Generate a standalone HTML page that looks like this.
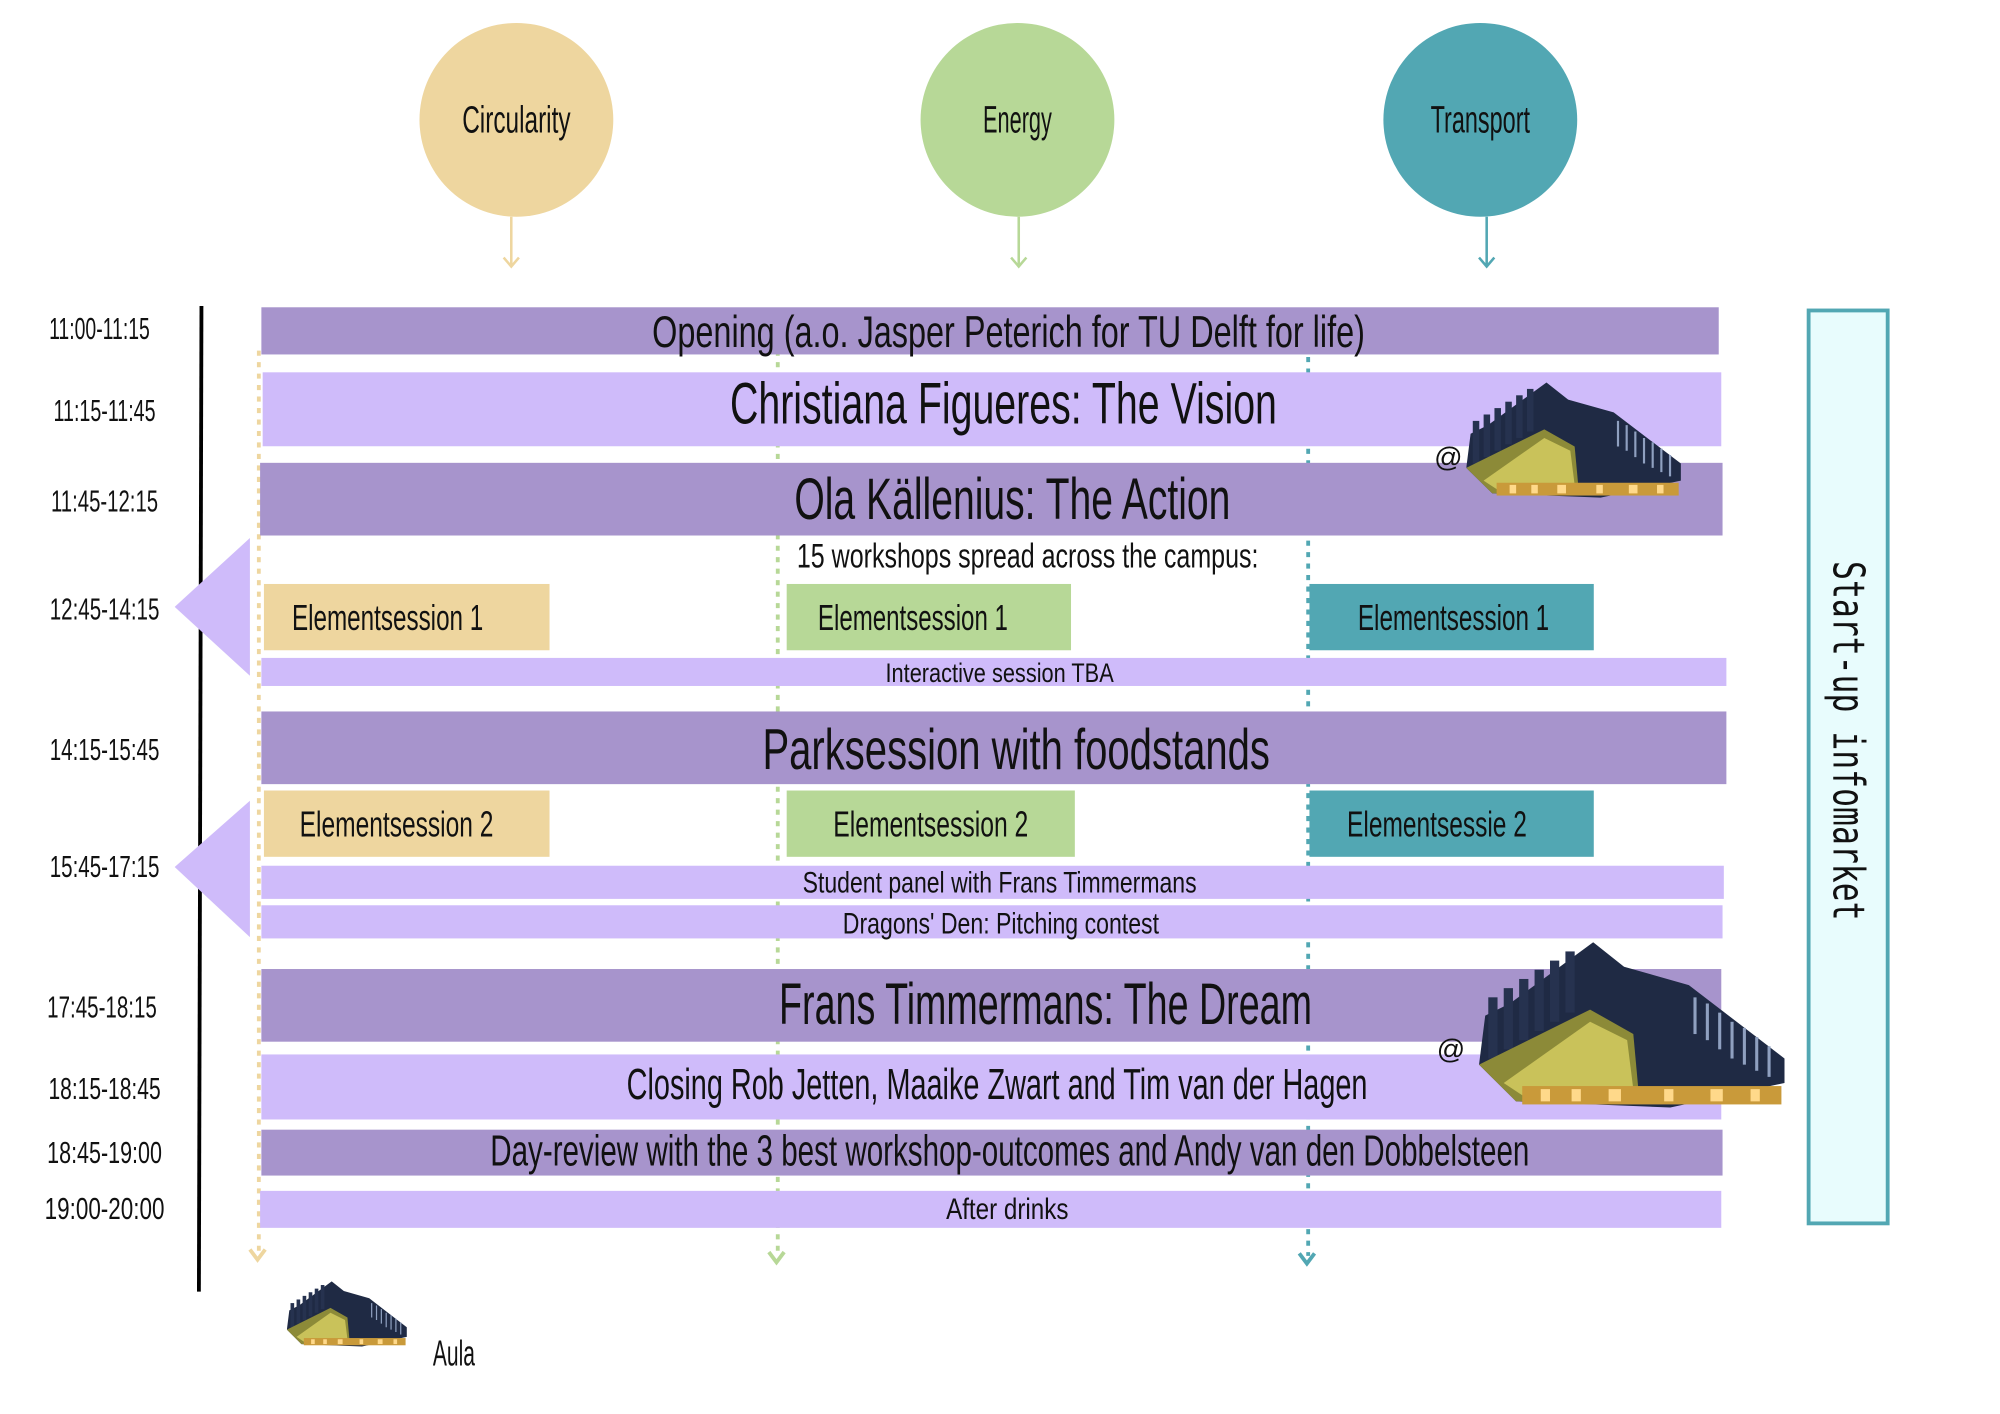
<!DOCTYPE html>
<html><head><meta charset="utf-8"><style>
html,body{margin:0;padding:0;background:#fff;}
svg{display:block;}
text{font-family:"Liberation Sans Narrow","Liberation Sans",sans-serif;fill:#111;}
</style></head><body>
<svg width="2000" height="1414" viewBox="0 0 1568.6 1109" xmlns="http://www.w3.org/2000/svg">
<defs>
<symbol id="bld" viewBox="0 0 100 55" preserveAspectRatio="none">
<polygon points="0,40 2,24 10,20 37,0 47,8 68,14 99,38 99,46 62,54 12,52" fill="#1f2a44"/>
<g fill="#26324f">
<rect x="3" y="18" width="3" height="20"/><rect x="8" y="15" width="3" height="20"/><rect x="13" y="12" width="3" height="20"/><rect x="18" y="9" width="3" height="20"/><rect x="23" y="6" width="3" height="20"/><rect x="28" y="3" width="3" height="20"/>
</g>
<polygon points="0,40 36,22 50,30 52,52 12,52" fill="#8c8a38"/>
<polygon points="8,46 36,26 48,32 50,48 14,50" fill="#c9c25a"/>
<rect x="14" y="47" width="84" height="6" fill="#c99a3a"/>
<g fill="#ffd98a"><rect x="20" y="48" width="3" height="4"/><rect x="30" y="48" width="3" height="4"/><rect x="42" y="48" width="4" height="4"/><rect x="60" y="48" width="3" height="4"/><rect x="75" y="48" width="4" height="4"/><rect x="88" y="48" width="3" height="4"/></g>
<g stroke="#8fa0c0" stroke-width="1">
<line x1="70" y1="18" x2="70" y2="30"/><line x1="74" y1="20" x2="74" y2="32"/><line x1="78" y1="23" x2="78" y2="35"/><line x1="82" y1="26" x2="82" y2="38"/><line x1="86" y1="28" x2="86" y2="40"/><line x1="90" y1="31" x2="90" y2="42"/><line x1="94" y1="34" x2="94" y2="44"/>
</g>
</symbol>
</defs>

<circle cx="405" cy="94" r="76" fill="#eed69f"/>
<circle cx="798" cy="94" r="76" fill="#b7d897"/>
<circle cx="1161" cy="94" r="76" fill="#52a7b3"/>
<text x="405" y="104" font-size="30" text-anchor="middle" textLength="85" lengthAdjust="spacingAndGlyphs">Circularity</text>
<text x="798" y="104" font-size="30" text-anchor="middle" textLength="54" lengthAdjust="spacingAndGlyphs">Energy</text>
<text x="1161" y="104" font-size="30" text-anchor="middle" textLength="78" lengthAdjust="spacingAndGlyphs">Transport</text>
<g stroke-width="2" fill="none">
<path d="M401 170 V209 M395 202 L401 209 L407 202" stroke="#eed69f"/>
<path d="M799 170 V209 M793 202 L799 209 L805 202" stroke="#b7d897"/>
<path d="M1166 170 V209 M1160 202 L1166 209 L1172 202" stroke="#52a7b3"/>
</g>

<g stroke-width="3" stroke-dasharray="4 5" fill="none">
<line x1="203" y1="275" x2="203" y2="985" stroke="#eed69f"/>
<line x1="610" y1="275" x2="610" y2="985" stroke="#b7d897"/>
<line x1="1026" y1="280" x2="1026" y2="985" stroke="#52a7b3"/>
</g>
<g stroke-width="3" fill="none">
<path d="M196 980 L202 988 L208 980" stroke="#eed69f"/>
<path d="M603 982 L609 990 L615 982" stroke="#b7d897"/>
<path d="M1019 983 L1025 991 L1031 983" stroke="#52a7b3"/>
</g>

<line x1="158" y1="240" x2="156" y2="1013" stroke="#000" stroke-width="3"/>
<polygon points="137,476 196,422 196,530" fill="#cfbbfa"/>
<polygon points="137,680 196,628 196,735" fill="#cfbbfa"/>

<g font-size="24" text-anchor="middle">
<text x="78" y="266" textLength="79" lengthAdjust="spacingAndGlyphs">11:00-11:15</text>
<text x="82" y="330" textLength="80" lengthAdjust="spacingAndGlyphs">11:15-11:45</text>
<text x="82" y="401" textLength="84" lengthAdjust="spacingAndGlyphs">11:45-12:15</text>
<text x="82" y="486" textLength="86" lengthAdjust="spacingAndGlyphs">12:45-14:15</text>
<text x="82" y="596" textLength="86" lengthAdjust="spacingAndGlyphs">14:15-15:45</text>
<text x="82" y="688" textLength="86" lengthAdjust="spacingAndGlyphs">15:45-17:15</text>
<text x="80" y="798" textLength="86" lengthAdjust="spacingAndGlyphs">17:45-18:15</text>
<text x="82" y="862" textLength="88" lengthAdjust="spacingAndGlyphs">18:15-18:45</text>
<text x="82" y="912" textLength="90" lengthAdjust="spacingAndGlyphs">18:45-19:00</text>
<text x="82" y="956" textLength="94" lengthAdjust="spacingAndGlyphs">19:00-20:00</text>
</g>

<rect x="205" y="241" width="1143" height="37" fill="#a794cc"/>
<rect x="206" y="292" width="1144" height="58" fill="#cfbbfa"/>
<rect x="204" y="363" width="1147" height="57" fill="#a794cc"/>
<rect x="207" y="458" width="224" height="52" fill="#eed69f"/>
<rect x="617" y="458" width="223" height="52" fill="#b7d897"/>
<rect x="1027" y="458" width="223" height="52" fill="#52a7b3"/>
<rect x="205" y="516" width="1149" height="22" fill="#cfbbfa"/>
<rect x="205" y="558" width="1149" height="57" fill="#a794cc"/>
<rect x="207" y="620" width="224" height="52" fill="#eed69f"/>
<rect x="617" y="620" width="226" height="52" fill="#b7d897"/>
<rect x="1027" y="620" width="223" height="52" fill="#52a7b3"/>
<rect x="205" y="679" width="1147" height="26" fill="#cfbbfa"/>
<rect x="205" y="710" width="1146" height="26" fill="#cfbbfa"/>
<rect x="205" y="760" width="1145" height="57" fill="#a794cc"/>
<rect x="205" y="827" width="1145" height="51" fill="#cfbbfa"/>
<rect x="205" y="886" width="1146" height="36" fill="#a794cc"/>
<rect x="204" y="934" width="1146" height="29" fill="#cfbbfa"/>

<text x="791" y="272" font-size="35" text-anchor="middle" textLength="559" lengthAdjust="spacingAndGlyphs">Opening (a.o. Jasper Peterich for TU Delft for life)</text>
<text x="787" y="332" font-size="46" text-anchor="middle" textLength="429" lengthAdjust="spacingAndGlyphs">Christiana Figueres: The Vision</text>
<text x="794" y="407" font-size="46" text-anchor="middle" textLength="342" lengthAdjust="spacingAndGlyphs">Ola Källenius: The Action</text>
<text x="806" y="445" font-size="27" text-anchor="middle" textLength="362" lengthAdjust="spacingAndGlyphs">15 workshops spread across the campus:</text>
<text x="304" y="494" font-size="28" text-anchor="middle" textLength="150" lengthAdjust="spacingAndGlyphs">Elementsession 1</text>
<text x="716" y="494" font-size="28" text-anchor="middle" textLength="149" lengthAdjust="spacingAndGlyphs">Elementsession 1</text>
<text x="1140" y="494" font-size="28" text-anchor="middle" textLength="150" lengthAdjust="spacingAndGlyphs">Elementsession 1</text>
<text x="784" y="535" font-size="21" text-anchor="middle" textLength="179" lengthAdjust="spacingAndGlyphs">Interactive session TBA</text>
<text x="797" y="603" font-size="45" text-anchor="middle" textLength="398" lengthAdjust="spacingAndGlyphs">Parksession with foodstands</text>
<text x="311" y="656" font-size="28" text-anchor="middle" textLength="152" lengthAdjust="spacingAndGlyphs">Elementsession 2</text>
<text x="730" y="656" font-size="28" text-anchor="middle" textLength="153" lengthAdjust="spacingAndGlyphs">Elementsession 2</text>
<text x="1127" y="656" font-size="28" text-anchor="middle" textLength="141" lengthAdjust="spacingAndGlyphs">Elementsessie 2</text>
<text x="784" y="700" font-size="23" text-anchor="middle" textLength="309" lengthAdjust="spacingAndGlyphs">Student panel with Frans Timmermans</text>
<text x="785" y="732" font-size="23" text-anchor="middle" textLength="248" lengthAdjust="spacingAndGlyphs">Dragons' Den: Pitching contest</text>
<text x="820" y="803" font-size="46" text-anchor="middle" textLength="418" lengthAdjust="spacingAndGlyphs">Frans Timmermans: The Dream</text>
<text x="782" y="862" font-size="34" text-anchor="middle" textLength="581" lengthAdjust="spacingAndGlyphs">Closing Rob Jetten, Maaike Zwart and Tim van der Hagen</text>
<text x="792" y="914" font-size="34" text-anchor="middle" textLength="815" lengthAdjust="spacingAndGlyphs">Day-review with the 3 best workshop-outcomes and Andy van den Dobbelsteen</text>
<text x="790" y="956" font-size="23" text-anchor="middle" textLength="96" lengthAdjust="spacingAndGlyphs">After drinks</text>

<text x="1136" y="366" font-size="22" text-anchor="middle">@</text>
<use href="#bld" x="1150" y="300" width="170" height="92"/>
<text x="1138" y="830" font-size="22" text-anchor="middle">@</text>
<use href="#bld" x="1160" y="739" width="242" height="132"/>
<use href="#bld" x="225" y="1005" width="95" height="52"/>
<text x="356" y="1071" font-size="28" text-anchor="middle" textLength="33" lengthAdjust="spacingAndGlyphs">Aula</text>

<rect x="1418.5" y="243.5" width="62" height="716" fill="#e8fcfd" stroke="#52a7b3" stroke-width="3"/>
<text transform="translate(1438,581) rotate(90)" font-size="34" text-anchor="middle" textLength="282" lengthAdjust="spacingAndGlyphs" style="font-family:'DejaVu Sans Mono','Liberation Mono',monospace">Start-up infomarket</text>
</svg>
</body></html>
